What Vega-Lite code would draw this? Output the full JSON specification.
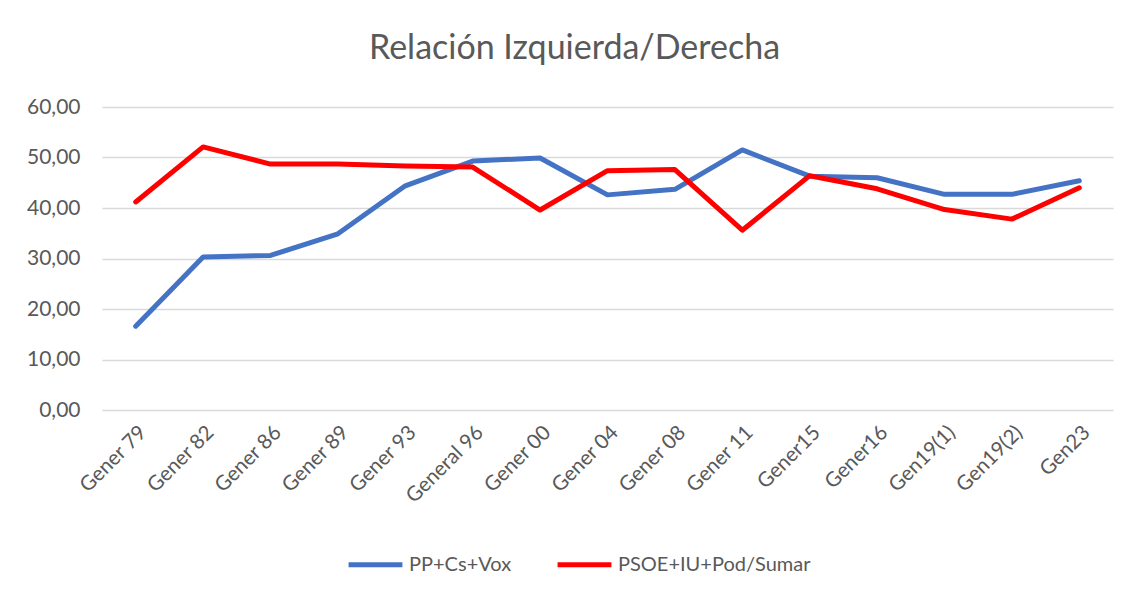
{
  "$schema": "https://vega.github.io/schema/vega-lite/v6.json",
  "width": 1011,
  "height": 303,
  "autosize": "none",
  "padding": {"left": 102, "top": 107, "right": 23, "bottom": 185},
  "background": "white",
  "config": {
    "font": "Lato",
    "view": {"stroke": null}
  },
  "title": {
    "text": "Relación Izquierda/Derecha",
    "anchor": "middle",
    "fontSize": 34,
    "fontWeight": "normal",
    "color": "#595959",
    "font": "Lato",
    "offset": 30,
    "dx": -33
  },
  "data": {
    "values": [
      {"eleccion": "Gener 79", "serie": "PP+Cs+Vox", "valor": 16.6},
      {"eleccion": "Gener 82", "serie": "PP+Cs+Vox", "valor": 30.3},
      {"eleccion": "Gener 86", "serie": "PP+Cs+Vox", "valor": 30.6},
      {"eleccion": "Gener 89", "serie": "PP+Cs+Vox", "valor": 34.9},
      {"eleccion": "Gener 93", "serie": "PP+Cs+Vox", "valor": 44.4},
      {"eleccion": "General 96", "serie": "PP+Cs+Vox", "valor": 49.3},
      {"eleccion": "Gener 00", "serie": "PP+Cs+Vox", "valor": 49.9},
      {"eleccion": "Gener 04", "serie": "PP+Cs+Vox", "valor": 42.6},
      {"eleccion": "Gener 08", "serie": "PP+Cs+Vox", "valor": 43.7},
      {"eleccion": "Gener 11", "serie": "PP+Cs+Vox", "valor": 51.5},
      {"eleccion": "Gener15", "serie": "PP+Cs+Vox", "valor": 46.3},
      {"eleccion": "Gener16", "serie": "PP+Cs+Vox", "valor": 46.0},
      {"eleccion": "Gen19(1)", "serie": "PP+Cs+Vox", "valor": 42.7},
      {"eleccion": "Gen19(2)", "serie": "PP+Cs+Vox", "valor": 42.7},
      {"eleccion": "Gen23", "serie": "PP+Cs+Vox", "valor": 45.4},
      {"eleccion": "Gener 79", "serie": "PSOE+IU+Pod/Sumar", "valor": 41.2},
      {"eleccion": "Gener 82", "serie": "PSOE+IU+Pod/Sumar", "valor": 52.1},
      {"eleccion": "Gener 86", "serie": "PSOE+IU+Pod/Sumar", "valor": 48.7},
      {"eleccion": "Gener 89", "serie": "PSOE+IU+Pod/Sumar", "valor": 48.7},
      {"eleccion": "Gener 93", "serie": "PSOE+IU+Pod/Sumar", "valor": 48.3},
      {"eleccion": "General 96", "serie": "PSOE+IU+Pod/Sumar", "valor": 48.1},
      {"eleccion": "Gener 00", "serie": "PSOE+IU+Pod/Sumar", "valor": 39.6},
      {"eleccion": "Gener 04", "serie": "PSOE+IU+Pod/Sumar", "valor": 47.4},
      {"eleccion": "Gener 08", "serie": "PSOE+IU+Pod/Sumar", "valor": 47.6},
      {"eleccion": "Gener 11", "serie": "PSOE+IU+Pod/Sumar", "valor": 35.6},
      {"eleccion": "Gener15", "serie": "PSOE+IU+Pod/Sumar", "valor": 46.4},
      {"eleccion": "Gener16", "serie": "PSOE+IU+Pod/Sumar", "valor": 43.8},
      {"eleccion": "Gen19(1)", "serie": "PSOE+IU+Pod/Sumar", "valor": 39.7},
      {"eleccion": "Gen19(2)", "serie": "PSOE+IU+Pod/Sumar", "valor": 37.8},
      {"eleccion": "Gen23", "serie": "PSOE+IU+Pod/Sumar", "valor": 44.0}
    ]
  },
  "mark": {"type": "line", "strokeWidth": 5, "strokeCap": "round", "strokeJoin": "round"},
  "encoding": {
    "x": {
      "field": "eleccion",
      "type": "nominal",
      "sort": null,
      "scale": {"type": "point", "padding": 0.5},
      "axis": {
        "title": null,
        "labelAngle": -45,
        "labelFontSize": 20.5,
        "labelColor": "#595959",
        "labelFont": "Lato",
        "domain": false,
        "ticks": false,
        "grid": false,
        "labelPadding": 12
      }
    },
    "y": {
      "field": "valor",
      "type": "quantitative",
      "scale": {"domain": [0, 60]},
      "axis": {
        "title": null,
        "values": [0, 10, 20, 30, 40, 50, 60],
        "labelExpr": "replace(format(datum.value, '.2f'), '.', ',')",
        "labelFontSize": 21,
        "labelColor": "#595959",
        "labelFont": "Lato",
        "labelPadding": 22,
        "domain": false,
        "ticks": false,
        "gridColor": "#d9d9d9",
        "gridWidth": 1.5
      }
    },
    "color": {
      "field": "serie",
      "type": "nominal",
      "scale": {"domain": ["PP+Cs+Vox", "PSOE+IU+Pod/Sumar"], "range": ["#4472C4", "#FF0000"]},
      "legend": {
        "title": null,
        "orient": "none",
        "direction": "horizontal",
        "legendX": 244,
        "legendY": 428,
        "symbolType": "stroke",
        "symbolSize": 2900,
        "symbolStrokeWidth": 5,
        "labelFontSize": 20,
        "labelColor": "#595959",
        "labelFont": "Lato",
        "labelLimit": 0,
        "labelOffset": 4,
        "columnPadding": 35
      }
    }
  }
}
